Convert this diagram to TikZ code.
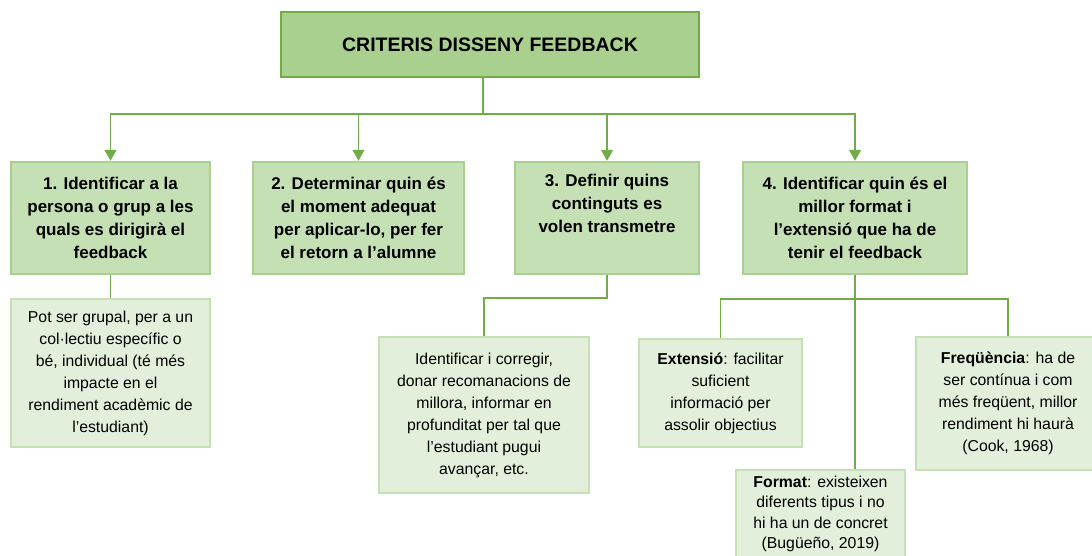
\documentclass[tikz,border=0pt]{standalone}
\usepackage{fontspec}
\setmainfont{Liberation Sans}
\usetikzlibrary{arrows.meta}
\definecolor{greendark}{HTML}{70AD47}
\definecolor{greenmid}{HTML}{A9D08E}
\definecolor{greenlight}{HTML}{C5E0B4}
\definecolor{greenpale}{HTML}{E2EFDA}
\begin{document}
\begin{tikzpicture}[x=1pt,y=-1pt]
    \tikzstyle{titlebox}=[draw=greendark, fill=greenmid, line width=2pt, inner sep=0pt, align=center, font=\bfseries\fontsize{19.5}{24}\selectfont]
    \tikzstyle{critbox}=[draw=greenmid, fill=greenlight, line width=2pt, inner sep=0pt, align=center, minimum height=112.5pt, font=\bfseries\fontsize{17}{23}\selectfont]
    \tikzstyle{notebox}=[draw=greenlight, fill=greenpale, line width=2pt, inner sep=0pt, align=center, font=\fontsize{15.8}{22}\selectfont]
    \tikzstyle{link}=[draw=greendark, line width=1.5pt]
    \tikzstyle{arr}=[link, -{Triangle[width=12pt,length=11pt]}]
    \useasboundingbox (0,0) rectangle (1092,555);
    \node[titlebox, minimum width=418pt, minimum height=65pt] (title) at (490,44.5){CRITERIS DISSENY FEEDBACK};
    \node[critbox, minimum width=199pt] (crit1) at (110.5,218){1. Identificar a la\\persona o grup a les\\quals es dirigirà el\\feedback};
    \node[critbox, minimum width=211pt] (crit2) at (358.5,218){2. Determinar quin és\\el moment adequat\\per aplicar-lo, per fer\\el retorn a l’alumne};
    \node[critbox, minimum width=184pt] (crit3) at (607,218){3. Definir quins\\continguts es\\volen transmetre\\\strut};
    \node[critbox, minimum width=224pt] (crit4) at (855,218){4. Identificar quin és el\\millor format i\\l’extensió que ha de\\tenir el feedback};
    \node[notebox, minimum width=199pt, minimum height=148.5pt] (note1) at (110.5,373){Pot ser grupal, per a un\\col·lectiu específic o\\bé, individual (té més\\impacte en el\\rendiment acadèmic de\\l’estudiant)};
    \node[notebox, minimum width=210pt, minimum height=156pt] (note3) at (484,415){Identificar i corregir,\\donar recomanacions de\\millora, informar en\\profunditat per tal que\\l’estudiant pugui\\avançar, etc.};
    \node[notebox, minimum width=163pt, minimum height=108.5pt] (ext) at (720.5,393){\textbf{Extensió}: facilitar\\suficient\\informació per\\assolir objectius};
    \node[notebox, minimum width=184pt, minimum height=133pt] (freq) at (1008,403.5){\textbf{Freqüència}: ha de\\ser contínua i com\\més freqüent, millor\\rendiment hi haurà\\(Cook, 1968)};
    \node[notebox, minimum width=169pt, minimum height=88pt, font=\fontsize{15.8}{20.5}\selectfont] (fmt) at (820.5,514){\textbf{Format}: existeixen\\diferents tipus i no\\hi ha un de concret\\(Bugüeño, 2019)};
    % title to criteria
    \coordinate (hub) at (483,114);
    \coordinate (lvl3) at (0,298);
    \coordinate (lvl4) at (0,299);
    \draw[link] (title.south -| hub) -- (hub);
    \draw[arr] (hub) -| (crit1.north);
    \draw[arr] (hub) -| (crit2.north);
    \draw[arr] (hub) -| (crit3.north);
    \draw[arr] (hub) -| (crit4.north);
    % criteria to notes
    \draw[link] (crit1.south) -- (note1.north);
    \draw[link] (crit3.south) |- (lvl3 -| note3.north) -- (note3.north);
    \draw[link] (crit4.south) -- (crit4.south |- fmt.north);
    \draw[link] (ext.north) |- (lvl4 -| freq.north) -- (freq.north);
\end{tikzpicture}
\end{document}
